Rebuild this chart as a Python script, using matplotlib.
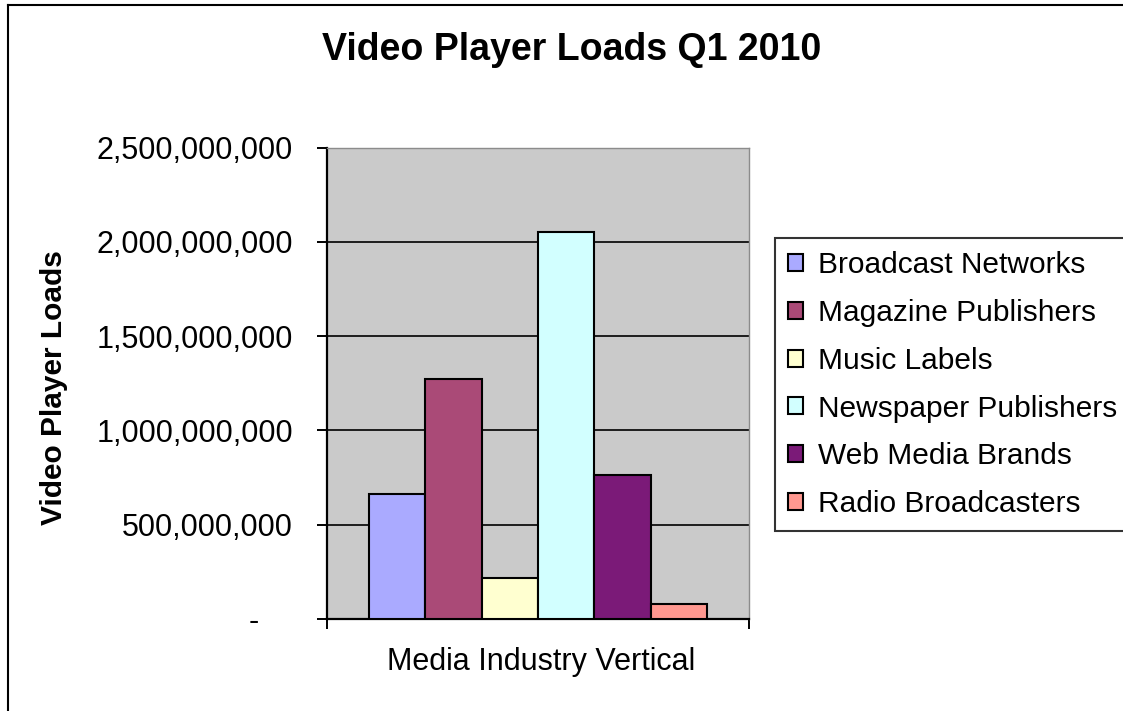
import matplotlib
matplotlib.use("Agg")
import matplotlib.pyplot as plt
from matplotlib.lines import Line2D
import numpy as np

# Video player loads by media industry vertical, Q1 2010
verticals = ["Broadcast Networks", "Magazine Publishers", "Music Labels",
             "Newspaper Publishers", "Web Media Brands", "Radio Broadcasters"]
loads = [664e6, 1272e6, 216e6, 2050e6, 762e6, 81e6]
colors = ["#AAAAFF", "#AA4A77", "#FFFFD0", "#D2FFFF", "#7B1A78", "#FF9890"]

y_ticks = [0, 500e6, 1000e6, 1500e6, 2000e6, 2500e6]
y_labels = ["-    ", "500,000,000", "1,000,000,000", "1,500,000,000",
            "2,000,000,000", "2,500,000,000"]

plt.rcParams["font.family"] = ["Liberation Sans", "DejaVu Sans"]

W, H = 1123, 711
fig = plt.figure(figsize=(W / 100, H / 100), dpi=100)
fig.patch.set_facecolor("white")

ax = fig.add_axes([327 / W, 1 - 619 / H, 422 / W, (619 - 147.5) / H])
ax.set_facecolor("#CACACA")

n = len(verticals)
width = 0.8 / n
xs = -0.4 + width / 2 + np.arange(n) * width
for x, v, c, name in zip(xs, loads, colors, verticals):
    ax.bar(x, v, width=width, color=c, edgecolor="black", linewidth=1.5,
           label=name, zorder=3)

ax.set_xlim(-0.5, 0.5)
ax.set_ylim(0, 2500e6)
ax.set_yticks(y_ticks)
ax.set_yticklabels(y_labels, fontsize=22)
ax.set_xticks([-0.5, 0.5])
ax.set_xticklabels(["", ""])
ax.tick_params(axis="y", direction="out", length=7.5, width=1.4, pad=17)
ax.tick_params(axis="x", direction="out", length=7.5, width=1.4)
ax.grid(axis="y", color="black", linewidth=1.2, zorder=1)
ax.set_axisbelow(True)

for side in ("left", "bottom"):
    ax.spines[side].set_color("black")
    ax.spines[side].set_linewidth(1.6)
for side in ("top", "right"):
    ax.spines[side].set_color("#8C8C8C")
    ax.spines[side].set_linewidth(1.0)

fig.text(572 / W, 1 - 50 / H, "Video Player Loads Q1 2010", fontsize=27,
         fontweight="bold", ha="center", va="center")
fig.text(54 / W, 1 - 388 / H, "Video Player Loads", fontsize=21.5,
         fontweight="bold", rotation=90, ha="center", va="center")
fig.text(541 / W, 1 - 662 / H, "Media Industry Vertical", fontsize=22,
         ha="center", va="center")

leg = fig.legend(loc="upper left", bbox_to_anchor=(775 / W, 1 - 238 / H),
                 fontsize=21.5, frameon=True, fancybox=False, shadow=False,
                 handlelength=0.5, handleheight=0.5, handletextpad=0.5,
                 labelspacing=0.66, borderpad=0.45, borderaxespad=0)
leg.get_frame().set_edgecolor("black")
leg.get_frame().set_linewidth(1.5)

# chart area border (left and top edges show)
fig.add_artist(Line2D([7.5 / W, 7.5 / W], [0, 1 - 5 / H], color="black",
                      linewidth=1.5, transform=fig.transFigure))
fig.add_artist(Line2D([7.5 / W, 1], [1 - 5 / H, 1 - 5 / H], color="black",
                      linewidth=1.5, transform=fig.transFigure))

fig.savefig("out.png", dpi=100)
